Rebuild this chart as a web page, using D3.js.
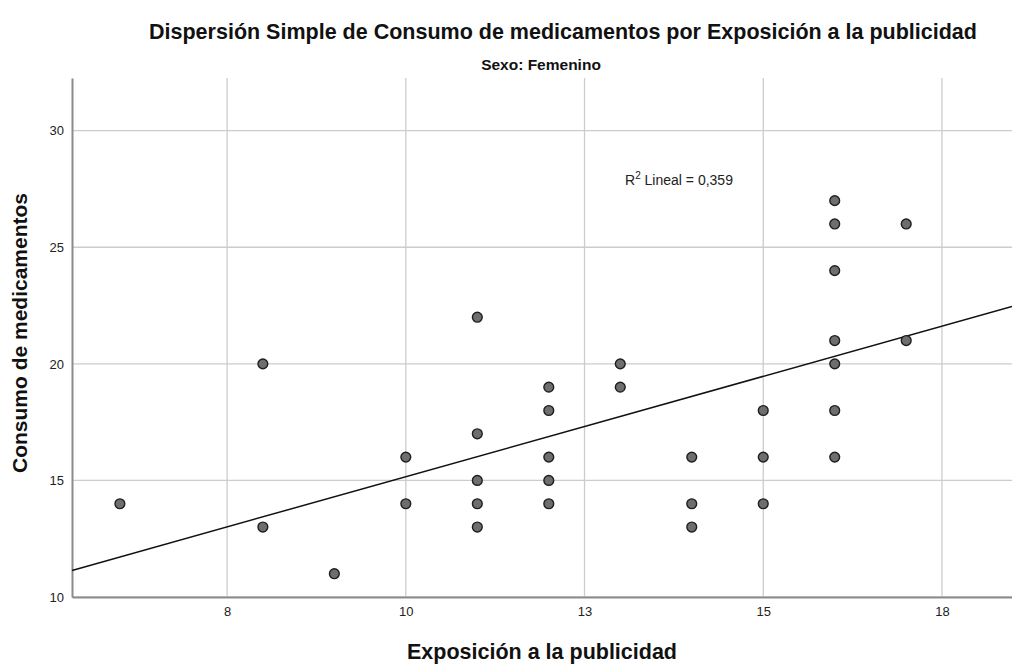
<!DOCTYPE html>
<html>
<head>
<meta charset="utf-8">
<script src="https://cdn.jsdelivr.net/npm/d3@7"></script>
<style>
    body { margin: 0; background: #fff; }
    svg { display: block; font-family: "Liberation Sans", Arial, sans-serif; }
</style>
</head>
<body>
<div id="chart"></div>
<script>
// Data: exposure (x) and medication use (y), women
const exposure = [6, 8, 8, 9, 10, 10, 11, 11, 11, 11, 11, 12, 12, 12, 12, 12,
    13, 13, 14, 14, 14, 15, 15, 15, 16, 16, 16, 16, 16, 16, 16, 17, 17];
const consumption = [14, 20, 13, 11, 16, 14, 22, 17, 15, 14, 13, 19, 18, 16, 15, 14,
    20, 19, 16, 14, 13, 18, 16, 14, 27, 26, 24, 21, 20, 18, 16, 26, 21];

// Linear fit line endpoints
const fitX = [5.33, 18.48];
const fitY = [11.14, 22.46];

const xTicks = [7.5, 10, 12.5, 15, 17.5];
const xTickLabels = ['8', '10', '13', '15', '18'];
const yTicks = [10, 15, 20, 25, 30];

const width = 1012, height = 664;
const margin = { top: 78, right: 0, bottom: 67, left: 72 };

const svg = d3.select('#chart').append('svg')
    .attr('width', width)
    .attr('height', height);

const x = d3.scaleLinear()
    .domain([5.33, 18.48])
    .range([margin.left, width - margin.right]);

const y = d3.scaleLinear()
    .domain([10, 32.26])
    .range([height - margin.bottom, margin.top]);

// Gridlines
svg.append('g')
    .selectAll('line.vgrid')
    .data(xTicks)
    .join('line')
    .attr('x1', d => x(d)).attr('x2', d => x(d))
    .attr('y1', y.range()[0]).attr('y2', y.range()[1])
    .attr('stroke', '#cccccc')
    .attr('stroke-width', 1.3);

svg.append('g')
    .selectAll('line.hgrid')
    .data(yTicks)
    .join('line')
    .attr('x1', x.range()[0]).attr('x2', x.range()[1])
    .attr('y1', d => y(d)).attr('y2', d => y(d))
    .attr('stroke', '#cccccc')
    .attr('stroke-width', 1.3);

// Axes (labels only, no tick marks)
const xAxis = svg.append('g')
    .attr('transform', `translate(0,${y.range()[0]})`)
    .call(d3.axisBottom(x).tickValues(xTicks).tickSize(0).tickPadding(10)
        .tickFormat((d, i) => xTickLabels[i]));

const yAxis = svg.append('g')
    .attr('transform', `translate(${x.range()[0]},0)`)
    .call(d3.axisLeft(y).tickValues(yTicks).tickSize(0).tickPadding(8));

[xAxis, yAxis].forEach(g => {
    g.select('.domain').attr('stroke', '#8c8c8c').attr('stroke-width', 2);
    g.selectAll('text')
        .attr('fill', '#222')
        .style('font-size', '13px')
        .style('font-family', '"Liberation Sans", Arial, sans-serif');
});

// Fit line
svg.append('line')
    .attr('x1', x(fitX[0])).attr('y1', y(fitY[0]))
    .attr('x2', x(fitX[1])).attr('y2', y(fitY[1]))
    .attr('stroke', '#111')
    .attr('stroke-width', 1.5);

// Points
svg.append('g')
    .selectAll('circle')
    .data(exposure.map((d, i) => ({ x: d, y: consumption[i] })))
    .join('circle')
    .attr('cx', d => x(d.x))
    .attr('cy', d => y(d.y))
    .attr('r', 4.9)
    .attr('fill', '#6e6e6e')
    .attr('stroke', '#1e1e1e')
    .attr('stroke-width', 1.4);

// R squared label
const r2 = svg.append('text')
    .attr('x', 625)
    .attr('y', 185)
    .style('font-size', '14px')
    .attr('fill', '#222');
r2.append('tspan').text('R');
r2.append('tspan').attr('dy', -6).style('font-size', '10px').text('2');
r2.append('tspan').attr('dy', 6).text(' Lineal = 0,359');

// Titles
svg.append('text')
    .attr('x', 563)
    .attr('y', 39)
    .attr('text-anchor', 'middle')
    .style('font-size', '21.5px')
    .style('font-weight', 'bold')
    .attr('fill', '#111')
    .text('Dispersión Simple de Consumo de medicamentos por Exposición a la publicidad');

svg.append('text')
    .attr('x', 541)
    .attr('y', 70)
    .attr('text-anchor', 'middle')
    .style('font-size', '15.5px')
    .style('font-weight', 'bold')
    .attr('fill', '#111')
    .text('Sexo: Femenino');

svg.append('text')
    .attr('x', 542)
    .attr('y', 659)
    .attr('text-anchor', 'middle')
    .style('font-size', '21.5px')
    .style('font-weight', 'bold')
    .attr('fill', '#111')
    .text('Exposición a la publicidad');

svg.append('text')
    .attr('transform', 'translate(27,333) rotate(-90)')
    .attr('text-anchor', 'middle')
    .style('font-size', '21px')
    .style('font-weight', 'bold')
    .attr('fill', '#111')
    .text('Consumo de medicamentos');
</script>
</body>
</html>
